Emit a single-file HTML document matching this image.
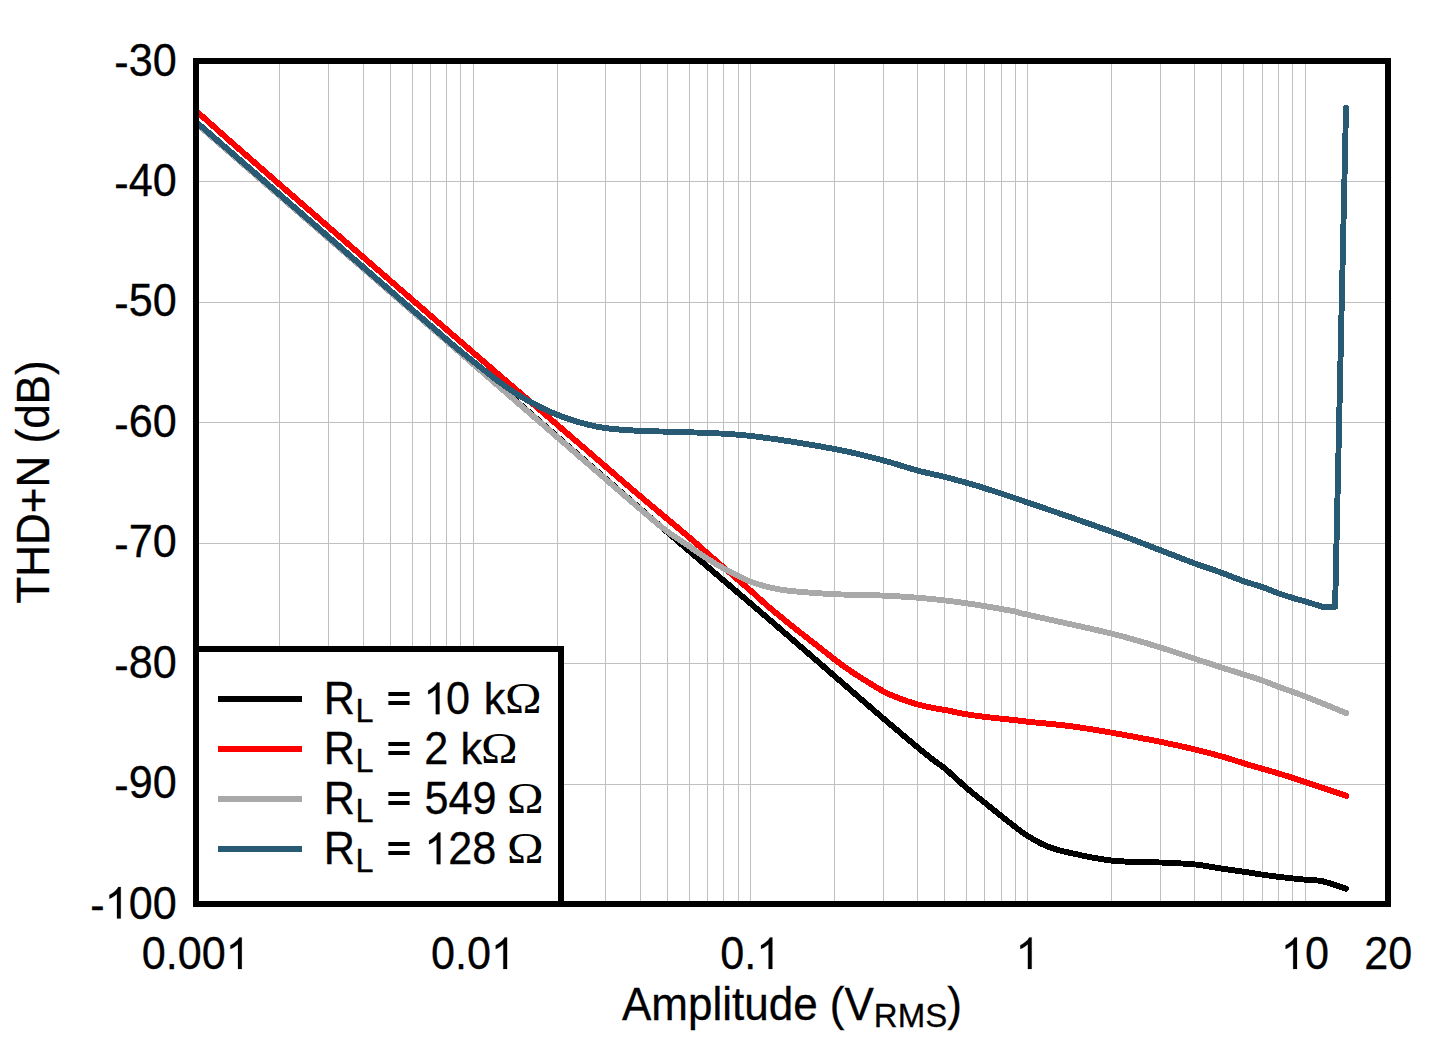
<!DOCTYPE html>
<html><head><meta charset="utf-8"><title>THD+N vs Amplitude</title>
<style>html,body{margin:0;padding:0;background:#fff;}body{width:1442px;height:1041px;overflow:hidden;font-family:"Liberation Sans",sans-serif;}svg{display:block;}</style></head>
<body>
<svg width="1442" height="1041" viewBox="0 0 1442 1041">
<rect width="1442" height="1041" fill="#fff"/>
<g fill="#C0C0C0" shape-rendering="crispEdges"><rect x="279" y="64" width="1" height="837"/><rect x="328" y="64" width="1" height="837"/><rect x="363" y="64" width="1" height="837"/><rect x="390" y="64" width="1" height="837"/><rect x="412" y="64" width="1" height="837"/><rect x="430" y="64" width="1" height="837"/><rect x="446" y="64" width="1" height="837"/><rect x="460" y="64" width="1" height="837"/><rect x="473" y="64" width="1" height="837"/><rect x="557" y="64" width="1" height="837"/><rect x="605" y="64" width="1" height="837"/><rect x="640" y="64" width="1" height="837"/><rect x="667" y="64" width="1" height="837"/><rect x="689" y="64" width="1" height="837"/><rect x="707" y="64" width="1" height="837"/><rect x="723" y="64" width="1" height="837"/><rect x="738" y="64" width="1" height="837"/><rect x="750" y="64" width="1" height="837"/><rect x="834" y="64" width="1" height="837"/><rect x="883" y="64" width="1" height="837"/><rect x="917" y="64" width="1" height="837"/><rect x="944" y="64" width="1" height="837"/><rect x="966" y="64" width="1" height="837"/><rect x="984" y="64" width="1" height="837"/><rect x="1001" y="64" width="1" height="837"/><rect x="1015" y="64" width="1" height="837"/><rect x="1027" y="64" width="1" height="837"/><rect x="1111" y="64" width="1" height="837"/><rect x="1160" y="64" width="1" height="837"/><rect x="1194" y="64" width="1" height="837"/><rect x="1221" y="64" width="1" height="837"/><rect x="1243" y="64" width="1" height="837"/><rect x="1262" y="64" width="1" height="837"/><rect x="1278" y="64" width="1" height="837"/><rect x="1292" y="64" width="1" height="837"/><rect x="1305" y="64" width="1" height="837"/><rect x="199" y="181" width="1186" height="1"/><rect x="199" y="302" width="1186" height="1"/><rect x="199" y="422" width="1186" height="1"/><rect x="199" y="543" width="1186" height="1"/><rect x="199" y="663" width="1186" height="1"/><rect x="199" y="784" width="1186" height="1"/></g>
<defs><clipPath id="cp"><rect x="196" y="61" width="1192" height="843"/></clipPath></defs>
<g clip-path="url(#cp)" fill="none" stroke-width="5.9" stroke-linejoin="round" stroke-linecap="round" shape-rendering="crispEdges">
<path d="M196.0,122.7C213.3,137.8 266.0,183.5 300.0,213.1C334.0,242.6 366.7,271.0 400.0,300.0C433.3,328.9 466.7,357.9 500.0,386.9C533.3,415.8 568.4,446.4 600.0,473.8C631.6,501.2 661.2,526.9 689.5,551.3C717.8,575.7 746.6,600.0 770.0,620.1C793.4,640.2 810.2,655.0 829.8,672.0C849.4,689.0 870.8,707.8 887.5,722.0C904.2,736.2 920.5,749.8 930.0,757.5C939.5,765.2 938.4,763.0 944.5,768.1C950.6,773.2 959.9,782.3 966.6,788.0C973.3,793.7 978.7,797.8 984.5,802.5C990.3,807.2 996.4,812.2 1001.6,816.3C1006.8,820.4 1011.3,824.0 1015.6,827.2C1019.9,830.5 1022.2,832.6 1027.4,835.8C1032.6,839.0 1040.3,843.5 1047.0,846.3C1053.7,849.0 1056.8,849.9 1067.6,852.3C1078.4,854.7 1096.1,858.9 1111.6,860.6C1127.1,862.3 1146.6,861.9 1160.4,862.5C1174.2,863.1 1184.4,863.4 1194.6,864.4C1204.8,865.4 1213.6,867.4 1221.7,868.6C1229.8,869.8 1236.7,870.7 1243.4,871.7C1250.2,872.7 1256.4,873.8 1262.2,874.6C1268.0,875.5 1273.5,876.2 1278.5,876.8C1283.5,877.4 1288.0,877.9 1292.5,878.4C1297.0,878.9 1300.5,879.2 1305.6,879.7C1310.6,880.2 1316.1,879.8 1322.8,881.3C1329.5,882.8 1342.0,887.5 1345.8,888.7" stroke="#000000"/>
<path d="M196.0,110.8C203.3,117.3 224.3,136.1 240.0,149.8C255.7,163.6 263.3,170.3 290.0,193.5C316.7,216.7 373.3,265.9 400.0,289.1C426.7,312.2 433.3,318.1 450.0,332.5C466.7,347.0 482.2,360.3 500.0,375.7C517.8,391.0 537.0,407.4 557.0,424.6C577.0,441.8 603.7,464.9 620.0,479.0C636.3,493.0 643.4,498.9 655.0,508.7C666.6,518.5 678.1,527.9 689.5,537.6C700.9,547.4 713.3,558.5 723.5,567.3C733.7,576.1 742.8,583.8 750.5,590.6C758.2,597.4 762.1,601.4 770.0,608.0C777.9,614.6 787.0,622.0 797.7,630.5C808.5,639.0 826.5,653.1 834.5,659.3C842.5,665.5 841.6,664.8 846.0,667.9C850.4,671.0 854.5,673.8 860.8,677.7C867.0,681.6 877.0,687.9 883.5,691.4C890.0,694.9 894.3,696.4 900.0,698.6C905.7,700.8 911.7,702.8 917.5,704.4C923.3,706.0 930.5,707.4 935.0,708.3C939.5,709.2 939.2,708.9 944.5,709.9C949.8,710.9 959.9,713.1 966.6,714.3C973.3,715.4 978.7,716.1 984.5,716.8C990.3,717.5 996.3,718.1 1001.5,718.7C1006.7,719.3 1011.2,719.7 1015.5,720.2C1019.8,720.7 1018.4,720.7 1027.5,721.7C1036.6,722.7 1056.0,724.3 1070.0,726.1C1084.0,727.9 1096.5,730.1 1111.6,732.7C1126.7,735.3 1146.6,739.0 1160.4,741.8C1174.2,744.6 1184.2,746.9 1194.3,749.3C1204.4,751.7 1213.0,754.0 1221.2,756.3C1229.4,758.6 1236.6,761.1 1243.4,763.2C1250.2,765.3 1256.4,767.1 1262.3,768.8C1268.2,770.5 1271.5,771.3 1278.7,773.5C1285.9,775.7 1294.3,778.4 1305.6,782.1C1316.9,785.8 1339.6,793.6 1346.4,795.9" stroke="#FF0000"/>
<path d="M196.0,123.2C213.3,138.3 266.0,184.0 300.0,213.6C334.0,243.1 366.7,271.5 400.0,300.5C433.3,329.4 466.7,358.4 500.0,387.4C533.3,416.3 576.7,454.0 600.0,474.3C623.3,494.5 629.2,499.6 640.0,508.8C650.8,518.1 656.8,523.4 665.0,529.7C673.2,536.0 682.4,541.7 689.5,546.6C696.6,551.5 701.8,555.2 707.5,558.8C713.2,562.4 718.3,565.5 723.5,568.4C728.7,571.3 734.0,574.0 738.5,576.2C743.0,578.4 745.2,579.8 750.5,581.7C755.8,583.6 763.4,586.0 770.0,587.5C776.6,589.0 779.3,589.8 790.0,590.9C800.7,592.0 818.8,593.4 834.4,594.2C850.0,595.0 869.7,595.0 883.6,595.6C897.5,596.2 907.6,596.9 917.8,597.7C927.9,598.5 936.4,599.5 944.5,600.4C952.6,601.3 959.9,602.4 966.6,603.3C973.3,604.2 976.3,604.6 984.5,606.0C992.7,607.4 1008.4,610.2 1015.6,611.7C1022.8,613.2 1011.5,611.1 1027.5,614.7C1043.5,618.4 1089.4,628.1 1111.6,633.6C1133.8,639.1 1146.6,643.3 1160.4,647.5C1174.2,651.7 1184.2,655.3 1194.3,658.6C1204.4,661.9 1213.0,664.8 1221.2,667.4C1229.4,670.0 1236.6,672.2 1243.4,674.4C1250.2,676.6 1256.4,678.4 1262.3,680.5C1268.2,682.6 1271.5,684.2 1278.7,686.9C1285.9,689.6 1294.3,692.2 1305.6,696.6C1316.9,701.0 1339.6,710.4 1346.4,713.2" stroke="#A9A9A9"/>
<path d="M196.0,121.8C213.3,136.9 266.0,182.6 300.0,212.2C334.0,241.7 375.0,277.4 400.0,299.1C425.0,320.8 437.8,332.1 450.0,342.5C462.2,353.0 465.2,355.0 473.5,361.7C481.8,368.4 492.2,376.8 500.0,382.5C507.8,388.2 513.3,391.9 520.0,396.0C526.7,400.1 533.9,403.9 540.0,407.0C546.1,410.1 549.8,411.9 556.5,414.5C563.2,417.1 571.8,420.2 580.0,422.5C588.2,424.8 595.4,426.7 605.5,428.1C615.6,429.5 626.4,430.2 640.4,430.9C654.4,431.6 671.3,431.5 689.6,432.3C707.9,433.1 726.2,433.1 750.4,435.9C774.5,438.7 812.3,444.9 834.5,449.0C856.7,453.1 869.6,456.9 883.5,460.5C897.4,464.1 907.5,467.9 917.7,470.6C927.9,473.3 936.4,474.8 944.6,476.9C952.8,478.9 960.0,481.0 966.7,482.9C973.4,484.8 974.6,484.9 984.7,488.2C994.8,491.4 1006.3,495.2 1027.4,502.4C1048.5,509.6 1089.2,523.6 1111.3,531.6C1133.4,539.6 1146.4,544.9 1160.3,550.2C1174.2,555.5 1184.2,559.5 1194.4,563.3C1204.6,567.0 1213.2,569.7 1221.4,572.7C1229.6,575.7 1236.6,578.7 1243.5,581.1C1250.4,583.5 1256.7,585.2 1262.6,587.2C1268.5,589.2 1273.7,591.6 1278.7,593.4C1283.7,595.2 1288.0,596.5 1292.5,597.9C1297.0,599.3 1300.6,600.1 1305.6,601.6C1310.6,603.1 1319.8,605.9 1322.6,606.8L1335.1,606.8L1346.0,108.0" stroke="#285B73"/>
</g>
<rect x="196" y="61" width="1192" height="843" fill="none" stroke="#000" stroke-width="6" shape-rendering="crispEdges"/>
<rect x="196" y="649" width="365" height="255" fill="#fff" stroke="#000" stroke-width="6" shape-rendering="crispEdges"/>
<rect x="218" y="696" width="84" height="6" fill="#000000" shape-rendering="crispEdges"/>
<rect x="388.4" y="692" width="21.2" height="4" fill="#000"/><rect x="388.4" y="701" width="21.2" height="4" fill="#000"/>
<rect x="218" y="746" width="84" height="6" fill="#FF0000" shape-rendering="crispEdges"/>
<rect x="388.4" y="742" width="21.2" height="4" fill="#000"/><rect x="388.4" y="751" width="21.2" height="4" fill="#000"/>
<rect x="218" y="796" width="84" height="6" fill="#A9A9A9" shape-rendering="crispEdges"/>
<rect x="388.4" y="792" width="21.2" height="4" fill="#000"/><rect x="388.4" y="801" width="21.2" height="4" fill="#000"/>
<rect x="218" y="846" width="84" height="6" fill="#285B73" shape-rendering="crispEdges"/>
<rect x="388.4" y="842" width="21.2" height="4" fill="#000"/><rect x="388.4" y="851" width="21.2" height="4" fill="#000"/>
<g font-family="Liberation Sans, sans-serif" fill="#000" stroke="#000" stroke-width="0.3"><text transform="scale(0.981,1.03)" x="330.07" y="693.40" font-size="44">R</text><text transform="scale(0.981,1.03)" x="362.46" y="700.68" font-size="33">L</text><text transform="scale(0.981,1.03)" x="454.71" y="693.40" font-size="44">0</text><text transform="scale(0.981,0.99)" x="493.24" y="721.41" font-size="44">k</text><text transform="scale(0.981,1.03)" x="330.07" y="741.94" font-size="44">R</text><text transform="scale(0.981,1.03)" x="362.46" y="749.22" font-size="33">L</text><text transform="scale(0.981,1.03)" x="432.48" y="741.94" font-size="44">2</text><text transform="scale(0.981,0.99)" x="469.49" y="771.92" font-size="44">k</text><text transform="scale(0.981,1.03)" x="330.07" y="790.49" font-size="44">R</text><text transform="scale(0.981,1.03)" x="362.46" y="797.77" font-size="33">L</text><text transform="scale(0.981,1.03)" x="432.69 457.16 481.63" y="790.49" font-size="44">549</text><text transform="scale(0.981,1.03)" x="330.07" y="839.03" font-size="44">R</text><text transform="scale(0.981,1.03)" x="362.46" y="846.31" font-size="33">L</text><text transform="scale(0.981,1.03)" x="457.06 481.53" y="839.03" font-size="44">28</text><text transform="scale(0.981,1.03)" x="131.18 155.65" y="73.40" font-size="44">30</text><text transform="scale(0.981,1.03)" x="116.53" y="76.12" font-size="44">-</text><text transform="scale(0.981,1.03)" x="131.18 155.65" y="190.32" font-size="44">40</text><text transform="scale(0.981,1.03)" x="116.53" y="193.04" font-size="44">-</text><text transform="scale(0.981,1.03)" x="131.18 155.65" y="307.24" font-size="44">50</text><text transform="scale(0.981,1.03)" x="116.53" y="309.96" font-size="44">-</text><text transform="scale(0.981,1.03)" x="131.18 155.65" y="424.17" font-size="44">60</text><text transform="scale(0.981,1.03)" x="116.53" y="426.88" font-size="44">-</text><text transform="scale(0.981,1.03)" x="131.18 155.65" y="541.09" font-size="44">70</text><text transform="scale(0.981,1.03)" x="116.53" y="543.81" font-size="44">-</text><text transform="scale(0.981,1.03)" x="131.18 155.65" y="658.01" font-size="44">80</text><text transform="scale(0.981,1.03)" x="116.53" y="660.73" font-size="44">-</text><text transform="scale(0.981,1.03)" x="131.18 155.65" y="774.93" font-size="44">90</text><text transform="scale(0.981,1.03)" x="116.53" y="777.65" font-size="44">-</text><text transform="scale(0.981,1.03)" x="131.18 155.65" y="891.85" font-size="44">00</text><text transform="scale(0.981,1.03)" x="92.06" y="894.57" font-size="44">-</text><text transform="scale(0.981,1.03)" x="144.44 168.91 181.13 205.60" y="940.78" font-size="44">0.00</text><text transform="scale(0.981,1.03)" x="439.34 463.81 476.04" y="940.78" font-size="44">0.0</text><text transform="scale(0.981,1.03)" x="734.25 758.72" y="940.78" font-size="44">0.</text><text transform="scale(0.981,1.03)" x="1330.17" y="940.78" font-size="44">0</text><text transform="scale(0.981,1.03)" x="1390.79 1415.27" y="940.78" font-size="44">20</text><text transform="translate(622.00,1019.50) scale(1.0,1.03)" font-size="44" text-anchor="start">Amplitude (V<tspan font-size="33" dy="7.28">RMS</tspan><tspan dy="-7.28">)</tspan></text><text transform="translate(49.20,482.00) rotate(-90) scale(1.0,1.03)" font-size="44" text-anchor="middle">THD+N (dB)</text></g>
<g fill="#000" stroke="#000" stroke-width="0.2"><path d="M439.55,714.20L435.76,714.20L435.76,689.56Q434.39,690.89 432.16,692.22Q429.94,693.55 428.17,694.22L428.17,690.48Q431.35,688.96 433.73,686.79Q436.11,684.62 437.10,682.58L439.55,682.58Z"/><path d="M440.45,864.20L436.66,864.20L436.66,839.56Q435.29,840.89 433.06,842.22Q430.84,843.55 429.07,844.22L429.07,840.48Q432.25,838.96 434.63,836.79Q437.01,834.62 438.00,832.58L440.45,832.58Z"/><path d="M120.76,918.61L116.97,918.61L116.97,893.97Q115.60,895.30 113.38,896.63Q111.15,897.96 109.38,898.63L109.38,894.89Q112.57,893.37 114.95,891.20Q117.33,889.03 118.32,886.99L120.76,886.99Z"/><path d="M241.78,969.00L237.99,969.00L237.99,944.36Q236.62,945.69 234.40,947.02Q232.17,948.35 230.40,949.02L230.40,945.28Q233.58,943.76 235.97,941.59Q238.35,939.42 239.34,937.38L241.78,937.38Z"/><path d="M507.08,969.00L503.29,969.00L503.29,944.36Q501.92,945.69 499.69,947.02Q497.47,948.35 495.70,949.02L495.70,945.28Q498.88,943.76 501.26,941.59Q503.64,939.42 504.64,937.38L507.08,937.38Z"/><path d="M772.38,969.00L768.58,969.00L768.58,944.36Q767.21,945.69 764.99,947.02Q762.77,948.35 761.00,949.02L761.00,945.28Q764.18,943.76 766.56,941.59Q768.94,939.42 769.93,937.38L772.38,937.38Z"/><path d="M1031.68,969.00L1027.88,969.00L1027.88,944.36Q1026.51,945.69 1024.29,947.02Q1022.07,948.35 1020.30,949.02L1020.30,945.28Q1023.48,943.76 1025.86,941.59Q1028.24,939.42 1029.23,937.38L1031.68,937.38Z"/><path d="M1296.98,969.00L1293.18,969.00L1293.18,944.36Q1291.81,945.69 1289.59,947.02Q1287.36,948.35 1285.59,949.02L1285.59,945.28Q1288.78,943.76 1291.16,941.59Q1293.54,939.42 1294.53,937.38L1296.98,937.38Z"/></g>
<g font-family="Liberation Serif, serif" fill="#000"><text transform="translate(505.1,713.2) scale(1.12,1.0)" font-size="44">&#937;</text><text transform="translate(480.9,763.2) scale(1.12,1.0)" font-size="44">&#937;</text><text transform="translate(507.1,813.2) scale(1.12,1.0)" font-size="44">&#937;</text><text transform="translate(507.1,863.2) scale(1.12,1.0)" font-size="44">&#937;</text></g>
</svg>
</body></html>
